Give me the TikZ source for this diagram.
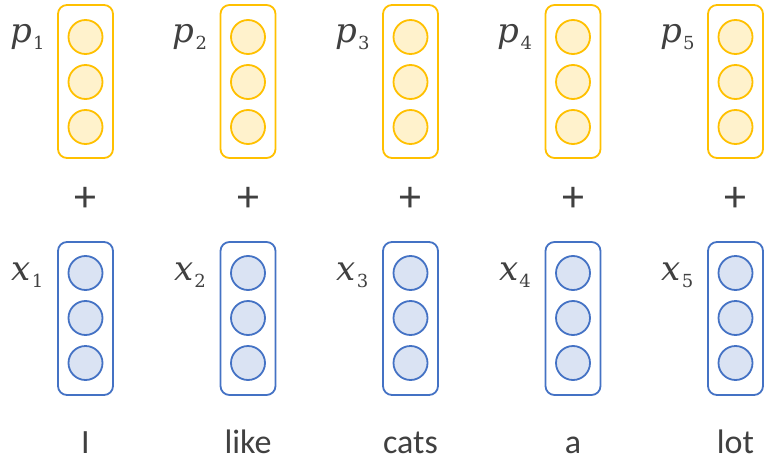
\documentclass[tikz,border=0pt]{standalone}
\usepackage{fontspec}
\setmainfont{Carlito}
\newfontfamily\labserif{DejaVu Serif}
\definecolor{ystroke}{HTML}{FFC000}
\definecolor{yfill}{HTML}{FFF2CC}
\definecolor{bstroke}{HTML}{4472C4}
\definecolor{bfill}{HTML}{DAE3F3}
\definecolor{txt}{HTML}{404040}
\newcommand{\veclab}[2]{{\labserif\itshape\fontsize{34}{40}\selectfont #1}\kern1pt\raisebox{-7pt}{\labserif\fontsize{18}{22}\selectfont #2}}
\tikzset{
  vecbox/.style={line width=1.8pt, rounded corners=9pt, minimum width=55pt, minimum height=153pt, inner sep=0pt},
  ybox/.style={vecbox, draw=ystroke},
  bbox/.style={vecbox, draw=bstroke},
  unit/.style={circle, line width=1.8pt, minimum size=34pt, inner sep=0pt},
  ycirc/.style={unit, draw=ystroke, fill=yfill},
  bcirc/.style={unit, draw=bstroke, fill=bfill},
  veclabel/.style={anchor=base, text=txt, inner sep=0pt},
  plussign/.style={text=txt, inner sep=0pt, font=\fontsize{44}{50}\selectfont},
  word/.style={anchor=base, text=txt, inner sep=0pt, font=\fontsize{34}{40}\selectfont}
}
\begin{document}
\begin{tikzpicture}[x=1pt,y=-1pt]
\useasboundingbox (0,0) rectangle (768,460);
\foreach \i/\w in {1/I,2/like,3/cats,4/a,5/lot}{
  \pgfmathsetmacro\cx{85.5+162.5*(\i-1)}
  \node[ybox] (pbox\i) at (\cx,81.5) {};
  \node[ycirc] (pca\i) at (\cx,37) {};
  \node[ycirc] (pcb\i) at (\cx,82) {};
  \node[ycirc] (pcc\i) at (\cx,127) {};
  \node[veclabel] (plab\i) at (\cx-58,43) {\veclab{p}{\i}};
  \node[plussign] (plus\i) at (\cx,199) {+};
  \node[bbox] (xbox\i) at (\cx,318.5) {};
  \node[bcirc] (xca\i) at (\cx,273) {};
  \node[bcirc] (xcb\i) at (\cx,318) {};
  \node[bcirc] (xcc\i) at (\cx,363) {};
  \node[veclabel] (xlab\i) at (\cx-58,280) {\veclab{x}{\i}};
  \node[word] (word\i) at (\cx,453) {\w};
}
\end{tikzpicture}
\end{document}
